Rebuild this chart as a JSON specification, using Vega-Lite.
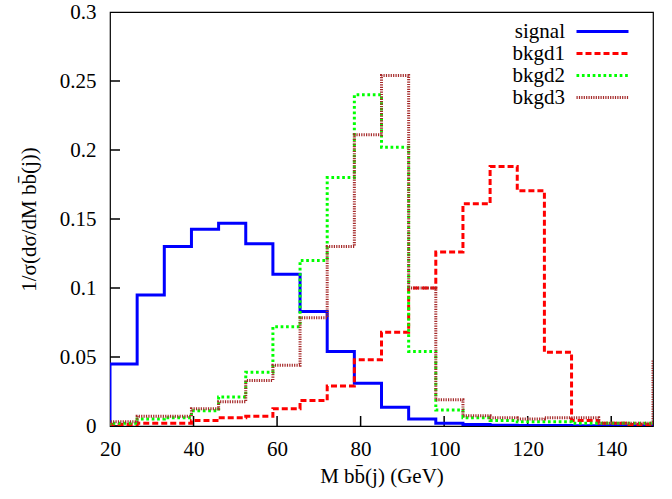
{
  "$schema": "https://vega.github.io/schema/vega-lite/v6.json",
  "autosize": {"type": "none"},
  "width": 543,
  "height": 414,
  "padding": {"left": 110, "top": 12, "right": 19, "bottom": 73},
  "background": "white",
  "config": {
    "view": {"stroke": "black", "strokeWidth": 1.2},
    "font": "Liberation Serif",
    "axis": {
      "grid": false,
      "domain": false,
      "ticks": false,
      "labelFlush": false,
      "labelOverlap": false,
      "labelFont": "Liberation Serif",
      "labelFontSize": 21,
      "labelColor": "black",
      "titleFont": "Liberation Serif",
      "titleFontSize": 21,
      "titleFontWeight": "normal",
      "titleColor": "black"
    },
    "legend": {
      "title": null,
      "orient": "none",
      "legendX": 481,
      "legendY": 8,
      "padding": 0,
      "symbolType": "M-2.6,0H2.6",
      "symbolSize": 400,
      "symbolStrokeWidth": 3,
      "labelAlign": "right",
      "labelOffset": -49,
      "rowPadding": 0,
      "labelFont": "Liberation Serif",
      "labelFontSize": 21,
      "labelColor": "black"
    }
  },
  "datasets": {
    "xticks": [{"v": 20}, {"v": 40}, {"v": 60}, {"v": 80}, {"v": 100}, {"v": 120}, {"v": 140}],
    "yticks": [{"v": 0}, {"v": 0.05}, {"v": 0.1}, {"v": 0.15}, {"v": 0.2}, {"v": 0.25}, {"v": 0.3}],
    "hist": [
      {"s": "signal", "k": 0, "x": 20, "y": 0},
      {"s": "signal", "k": 1, "x": 20, "y": 0.045},
      {"s": "signal", "k": 2, "x": 26.5, "y": 0.095},
      {"s": "signal", "k": 3, "x": 33, "y": 0.130},
      {"s": "signal", "k": 4, "x": 39.5, "y": 0.1425},
      {"s": "signal", "k": 5, "x": 46, "y": 0.147},
      {"s": "signal", "k": 6, "x": 52.5, "y": 0.132},
      {"s": "signal", "k": 7, "x": 59, "y": 0.110},
      {"s": "signal", "k": 8, "x": 65.5, "y": 0.083},
      {"s": "signal", "k": 9, "x": 72, "y": 0.054},
      {"s": "signal", "k": 10, "x": 78.5, "y": 0.031},
      {"s": "signal", "k": 11, "x": 85, "y": 0.0135},
      {"s": "signal", "k": 12, "x": 91.5, "y": 0.005},
      {"s": "signal", "k": 13, "x": 98, "y": 0.002},
      {"s": "signal", "k": 14, "x": 104.5, "y": 0.001},
      {"s": "signal", "k": 15, "x": 111, "y": 0.0006},
      {"s": "signal", "k": 16, "x": 117.5, "y": 0.0004},
      {"s": "signal", "k": 17, "x": 124, "y": 0.0003},
      {"s": "signal", "k": 18, "x": 130.5, "y": 0.0002},
      {"s": "signal", "k": 19, "x": 137, "y": 0.0002},
      {"s": "signal", "k": 20, "x": 143.5, "y": 0.0001},
      {"s": "signal", "k": 21, "x": 150, "y": 0.0001},

      {"s": "bkgd1", "k": 0, "x": 20, "y": 0},
      {"s": "bkgd1", "k": 1, "x": 20, "y": 0.001},
      {"s": "bkgd1", "k": 2, "x": 26.5, "y": 0.002},
      {"s": "bkgd1", "k": 3, "x": 33, "y": 0.002},
      {"s": "bkgd1", "k": 4, "x": 39.5, "y": 0.004},
      {"s": "bkgd1", "k": 5, "x": 46, "y": 0.006},
      {"s": "bkgd1", "k": 6, "x": 52.5, "y": 0.007},
      {"s": "bkgd1", "k": 7, "x": 59, "y": 0.0125},
      {"s": "bkgd1", "k": 8, "x": 65.5, "y": 0.0185},
      {"s": "bkgd1", "k": 9, "x": 72, "y": 0.029},
      {"s": "bkgd1", "k": 10, "x": 78.5, "y": 0.048},
      {"s": "bkgd1", "k": 11, "x": 85, "y": 0.068},
      {"s": "bkgd1", "k": 12, "x": 91.5, "y": 0.100},
      {"s": "bkgd1", "k": 13, "x": 98, "y": 0.126},
      {"s": "bkgd1", "k": 14, "x": 104.5, "y": 0.161},
      {"s": "bkgd1", "k": 15, "x": 111, "y": 0.188},
      {"s": "bkgd1", "k": 16, "x": 117.5, "y": 0.1705},
      {"s": "bkgd1", "k": 17, "x": 124, "y": 0.0535},
      {"s": "bkgd1", "k": 18, "x": 130.5, "y": 0.004},
      {"s": "bkgd1", "k": 19, "x": 137, "y": 0.002},
      {"s": "bkgd1", "k": 20, "x": 143.5, "y": 0.001},
      {"s": "bkgd1", "k": 21, "x": 150, "y": 0.001},

      {"s": "bkgd2", "k": 0, "x": 20, "y": 0},
      {"s": "bkgd2", "k": 1, "x": 20, "y": 0.002},
      {"s": "bkgd2", "k": 2, "x": 26.5, "y": 0.005},
      {"s": "bkgd2", "k": 3, "x": 33, "y": 0.006},
      {"s": "bkgd2", "k": 4, "x": 39.5, "y": 0.011},
      {"s": "bkgd2", "k": 5, "x": 46, "y": 0.021},
      {"s": "bkgd2", "k": 6, "x": 52.5, "y": 0.039},
      {"s": "bkgd2", "k": 7, "x": 59, "y": 0.072},
      {"s": "bkgd2", "k": 8, "x": 65.5, "y": 0.120},
      {"s": "bkgd2", "k": 9, "x": 72, "y": 0.180},
      {"s": "bkgd2", "k": 10, "x": 78.5, "y": 0.240},
      {"s": "bkgd2", "k": 11, "x": 85, "y": 0.202},
      {"s": "bkgd2", "k": 12, "x": 91.5, "y": 0.054},
      {"s": "bkgd2", "k": 13, "x": 98, "y": 0.0116},
      {"s": "bkgd2", "k": 14, "x": 104.5, "y": 0.006},
      {"s": "bkgd2", "k": 15, "x": 111, "y": 0.004},
      {"s": "bkgd2", "k": 16, "x": 117.5, "y": 0.003},
      {"s": "bkgd2", "k": 17, "x": 124, "y": 0.003},
      {"s": "bkgd2", "k": 18, "x": 130.5, "y": 0.002},
      {"s": "bkgd2", "k": 19, "x": 137, "y": 0.002},
      {"s": "bkgd2", "k": 20, "x": 143.5, "y": 0.002},
      {"s": "bkgd2", "k": 21, "x": 150, "y": 0.002},

      {"s": "bkgd3", "k": 0, "x": 20, "y": 0},
      {"s": "bkgd3", "k": 1, "x": 20, "y": 0.003},
      {"s": "bkgd3", "k": 2, "x": 26.5, "y": 0.007},
      {"s": "bkgd3", "k": 3, "x": 33, "y": 0.007},
      {"s": "bkgd3", "k": 4, "x": 39.5, "y": 0.0125},
      {"s": "bkgd3", "k": 5, "x": 46, "y": 0.0176},
      {"s": "bkgd3", "k": 6, "x": 52.5, "y": 0.033},
      {"s": "bkgd3", "k": 7, "x": 59, "y": 0.044},
      {"s": "bkgd3", "k": 8, "x": 65.5, "y": 0.0785},
      {"s": "bkgd3", "k": 9, "x": 72, "y": 0.130},
      {"s": "bkgd3", "k": 10, "x": 78.5, "y": 0.211},
      {"s": "bkgd3", "k": 11, "x": 85, "y": 0.254},
      {"s": "bkgd3", "k": 12, "x": 91.5, "y": 0.100},
      {"s": "bkgd3", "k": 13, "x": 98, "y": 0.019},
      {"s": "bkgd3", "k": 14, "x": 104.5, "y": 0.0075},
      {"s": "bkgd3", "k": 15, "x": 111, "y": 0.006},
      {"s": "bkgd3", "k": 16, "x": 117.5, "y": 0.005},
      {"s": "bkgd3", "k": 17, "x": 124, "y": 0.006},
      {"s": "bkgd3", "k": 18, "x": 130.5, "y": 0.006},
      {"s": "bkgd3", "k": 19, "x": 137, "y": 0.002},
      {"s": "bkgd3", "k": 20, "x": 143.5, "y": 0.002},
      {"s": "bkgd3", "k": 21, "x": 150, "y": 0.048}
    ]
  },
  "layer": [
    {
      "data": {"name": "xticks"},
      "mark": {"type": "tick", "orient": "vertical", "size": 20, "thickness": 1.5, "color": "black", "opacity": 1, "clip": true},
      "encoding": {
        "x": {"field": "v", "type": "quantitative"},
        "y": {"datum": 0, "type": "quantitative"}
      }
    },
    {
      "data": {"name": "yticks"},
      "mark": {"type": "tick", "orient": "horizontal", "size": 20, "thickness": 1.5, "color": "black", "opacity": 1, "clip": true},
      "encoding": {
        "y": {"field": "v", "type": "quantitative"},
        "x": {"datum": 20, "type": "quantitative"}
      }
    },
    {
      "data": {"name": "hist"},
      "mark": {"type": "line", "interpolate": "step-after", "strokeWidth": 3, "strokeCap": "butt", "clip": true},
      "encoding": {
        "x": {
          "field": "x", "type": "quantitative",
          "scale": {"domain": [20, 150], "nice": false, "zero": false},
          "axis": {"values": [20, 40, 60, 80, 100, 120, 140], "labelPadding": 12, "title": "M bb̄(j) (GeV)", "titlePadding": 6}
        },
        "y": {
          "field": "y", "type": "quantitative",
          "scale": {"domain": [0, 0.3], "nice": false},
          "axis": {"values": [0, 0.05, 0.1, 0.15, 0.2, 0.25, 0.3], "format": ".2~f", "labelPadding": 14, "title": "1/σ(dσ/dM bb̄(j))", "titlePadding": 20}
        },
        "order": {"field": "k", "type": "quantitative"},
        "color": {
          "field": "s", "type": "nominal",
          "scale": {"domain": ["signal", "bkgd1", "bkgd2", "bkgd3"], "range": ["#0000ff", "#ff0000", "#00ff00", "#a52a2a"]},
          "legend": {"title": null}
        },
        "strokeDash": {
          "field": "s", "type": "nominal",
          "scale": {"domain": ["signal", "bkgd1", "bkgd2", "bkgd3"], "range": [[1, 0], [6, 3], [2.7, 2.7], [1.2, 1.2]]},
          "legend": {"title": null}
        }
      }
    }
  ]
}
